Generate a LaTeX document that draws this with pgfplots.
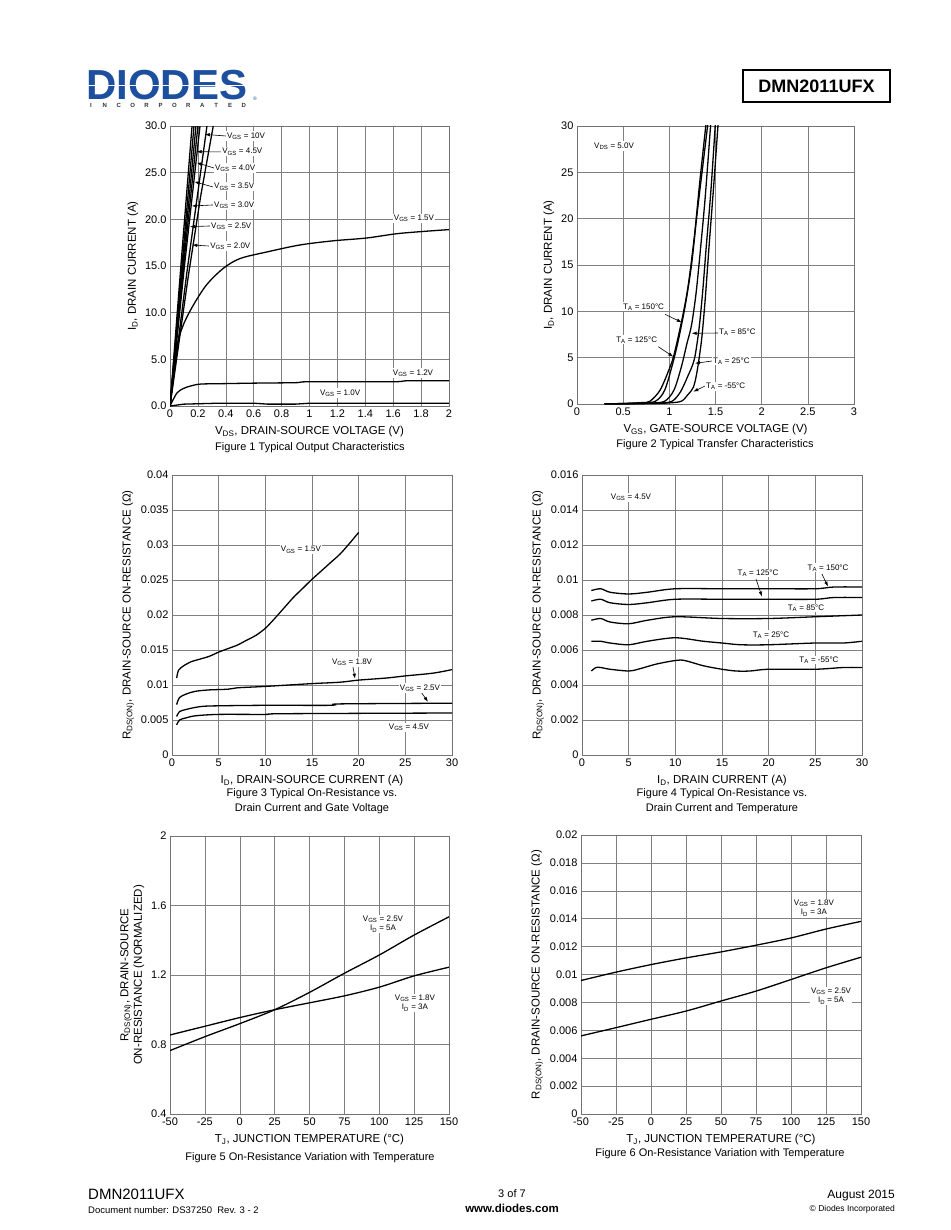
\documentclass[border=0pt]{standalone}
\usepackage{fontspec}
\setmainfont{Liberation Sans}
\usepackage{pgfplots}
\pgfplotsset{compat=1.18}
\usetikzlibrary{arrows.meta}
\definecolor{diodesblue}{RGB}{28,79,158}
\newcommand\tks{\fontsize{11}{13}\selectfont}
\newcommand\lbs{\fontsize{11.5}{13.5}\selectfont}
\newcommand\anns{\fontsize{8}{9.5}\selectfont}
\newcommand\cps{\fontsize{11}{15}\selectfont}
\newcommand\GS{V\textsubscript{GS}}
\newcommand\TA{T\textsubscript{A}}
\pgfplotsset{
 ds/.style={
   scale only axis, anchor=south west,
   axis line style={black!55, line width=0.7pt},
   grid=major, major grid style={black!50, line width=0.5pt},
   major tick length=0pt,
   tick label style={font=\tks},
   xlabel style={font=\lbs, yshift=-2pt},
   ylabel style={font=\lbs},
   scaled x ticks=false, scaled y ticks=false,
   no markers,
   every axis plot post/.append style={black, solid, line width=1.3pt, mark=none},
   /pgf/number format/assume math mode=true,
 },
}
\tikzset{
 ann/.style={font=\anns, fill=white, inner sep=1pt},
 arr/.style={-{Latex[length=5pt,width=3.5pt]}, line width=0.6pt},
}
\begin{document}
\begin{tikzpicture}
\useasboundingbox[fill=white] (0pt,0pt) rectangle (950pt,-1230pt);

% ---------- header ----------
\node[anchor=base west, inner sep=0pt, text depth=0pt, text=diodesblue, font=\fontsize{42}{42}\selectfont\bfseries] at (86pt,-100pt) {DIODES};
\fill[white] (86pt,-86pt) rectangle (252pt,-84.6pt);
\foreach \c [count=\i from 0] in {I,N,C,O,R,P,O,R,A,T,E,D}
  \node[anchor=base, inner sep=0pt, text depth=0pt, text=black!80, font=\fontsize{6}{6}\selectfont\bfseries] at ({91pt+\i*13.9pt},-108pt) {\c};
\node[anchor=base, inner sep=0pt, text depth=0pt, text=diodesblue, font=\fontsize{5}{5}\selectfont] at (255pt,-101pt) {®};
\draw[line width=1.2pt] (743pt,-70pt) rectangle (890pt,-102pt);
\node[font=\fontsize{18}{18}\selectfont\bfseries] at (816.5pt,-86.5pt) {DMN2011UFX};

% ---------- Figure 1 ----------
\begin{axis}[ds, at={(170pt,-406pt)}, width=279pt, height=280pt,
  xmin=0, xmax=2, ymin=0, ymax=30,
  xtick={0,0.2,0.4,0.6,0.8,1,1.2,1.4,1.6,1.8,2},
  xticklabels={0,0.2,0.4,0.6,0.8,1,1.2,1.4,1.6,1.8,2},
  ytick={0,5,10,15,20,25,30},
  yticklabels={0.0,5.0,10.0,15.0,20.0,25.0,30.0},
  xlabel={V\textsubscript{DS}, DRAIN-SOURCE VOLTAGE (V)},
  ylabel={I\textsubscript{D}, DRAIN CURRENT (A)}]
\addplot coordinates {(0,0)(0.08,15.4)(0.158,30)};
\addplot coordinates {(0,0)(0.09,15.8)(0.172,30)};
\addplot coordinates {(0,0)(0.095,15.6)(0.186,30)};
\addplot coordinates {(0,0)(0.10,15.4)(0.20,30)};
\addplot coordinates {(0,0)(0.105,15.2)(0.215,30)};
\addplot coordinates {(0,0)(0.12,14.2)(0.265,30)};
\addplot coordinates {(0,0)(0.13,13.8)(0.22,22.5)(0.31,30)};
\addplot+[smooth] coordinates {(0,0)(0.048,6.2)(0.096,8.7)(0.167,10.8)(0.263,13.0)(0.382,14.75)(0.502,15.8)(0.693,16.5)(0.93,17.25)(1.17,17.7)(1.41,18.0)(1.65,18.5)(2,18.9)};
\addplot+[smooth] coordinates {(0,0)(0.05,1.4)(0.1,1.9)(0.15,2.15)(0.22,2.35)(0.4,2.4)(0.6,2.45)(0.9,2.5)(1.0,2.6)(1.6,2.6)(1.7,2.7)(2,2.7)};
\addplot coordinates {(0,0)(0.1,0.2)(0.35,0.3)(0.6,0.3)(0.7,0.2)(0.9,0.2)(1.0,0.3)(2,0.3)};
\draw[arr] (axis cs:0.40,28.93) -- (axis cs:0.25,29.1);
\draw[arr] (axis cs:0.366,27.22) -- (axis cs:0.191,27.25);
\draw[arr] (axis cs:0.315,25.5) -- (axis cs:0.191,26.07);
\draw[arr] (axis cs:0.308,23.47) -- (axis cs:0.174,24.03);
\draw[arr] (axis cs:0.308,21.54) -- (axis cs:0.156,21.43);
\draw[arr] (axis cs:0.287,19.29) -- (axis cs:0.143,19.21);
\draw[arr] (axis cs:0.28,17.14) -- (axis cs:0.16,17.25);
\node[ann, anchor=west] at (axis cs:0.401,28.93) {\GS{} = 10V};
\node[ann, anchor=west] at (axis cs:0.366,27.22) {\GS{} = 4.5V};
\node[ann, anchor=west] at (axis cs:0.315,25.5) {\GS{} = 4.0V};
\node[ann, anchor=west] at (axis cs:0.308,23.47) {\GS{} = 3.5V};
\node[ann, anchor=west] at (axis cs:0.308,21.54) {\GS{} = 3.0V};
\node[ann, anchor=west] at (axis cs:0.287,19.29) {\GS{} = 2.5V};
\node[ann, anchor=west] at (axis cs:0.28,17.14) {\GS{} = 2.0V};
\node[ann] at (axis cs:1.749,20.14) {\GS{} = 1.5V};
\node[ann] at (axis cs:1.742,3.54) {\GS{} = 1.2V};
\node[ann] at (axis cs:1.219,1.39) {\GS{} = 1.0V};
\end{axis}
\node[font=\cps] at (310pt,-448pt) {Figure 1 Typical Output Characteristics};

% ---------- Figure 2 ----------
\begin{axis}[ds, at={(577pt,-404pt)}, width=277pt, height=278pt,
  xmin=0, xmax=3, ymin=0, ymax=30,
  xtick={0,0.5,1,1.5,2,2.5,3},
  xticklabels={0,0.5,1,1.5,2,2.5,3},
  ytick={0,5,10,15,20,25,30},
  yticklabels={0,5,10,15,20,25,30},
  xlabel={V\textsubscript{GS}, GATE-SOURCE VOLTAGE (V)},
  ylabel={I\textsubscript{D}, DRAIN CURRENT (A)}]
\addplot+[smooth] coordinates {(0.3,0.02)(0.5,0.05)(0.7,0.15)(0.79,0.3)(0.9,1.5)(1.0,3.8)(1.05,5.3)(1.13,8.8)(1.2,12.5)(1.27,18)(1.33,24)(1.40,30.5)};
\addplot+[smooth] coordinates {(0.3,0.02)(0.5,0.05)(0.7,0.12)(0.85,0.3)(0.95,1.5)(1.04,4.5)(1.1,7)(1.17,10.5)(1.24,15)(1.30,20.5)(1.36,25.5)(1.42,30.5)};
\addplot+[smooth] coordinates {(0.3,0.02)(0.6,0.05)(0.8,0.1)(0.95,0.3)(1.05,1.5)(1.13,4)(1.19,6.5)(1.24,8.5)(1.29,12)(1.34,17)(1.39,22.5)(1.45,30.5)};
\addplot+[smooth] coordinates {(0.3,0.02)(0.7,0.05)(0.9,0.1)(1.03,0.3)(1.12,1.3)(1.2,3)(1.27,4.8)(1.32,8)(1.36,12)(1.40,17)(1.45,23)(1.50,30.5)};
\addplot+[smooth] coordinates {(0.3,0.02)(0.8,0.05)(1.0,0.12)(1.13,0.3)(1.2,1)(1.26,1.8)(1.3,3.5)(1.35,7)(1.39,11.5)(1.43,17)(1.48,23.5)(1.53,30.5)};
\draw[arr] (axis cs:0.953,9.68) -- (axis cs:1.134,8.82);
\draw[arr] (axis cs:0.881,6.18) -- (axis cs:1.043,5.10);
\draw[arr] (axis cs:1.527,7.66) -- (axis cs:1.242,7.63);
\draw[arr] (axis cs:1.462,4.64) -- (axis cs:1.278,4.39);
\draw[arr] (axis cs:1.386,1.94) -- (axis cs:1.26,1.33);
\node[ann, anchor=west] at (axis cs:0.173,27.84) {V\textsubscript{DS} = 5.0V};
\node[ann, anchor=west] at (axis cs:0.487,10.47) {\TA{} = 150°C};
\node[ann, anchor=west] at (axis cs:0.412,6.91) {\TA{} = 125°C};
\node[ann, anchor=west] at (axis cs:1.527,7.77) {\TA{} = 85°C};
\node[ann, anchor=west] at (axis cs:1.462,4.64) {\TA{} = 25°C};
\node[ann, anchor=west] at (axis cs:1.386,1.94) {\TA{} = -55°C};
\end{axis}
\node[font=\cps] at (715pt,-445pt) {Figure 2 Typical Transfer Characteristics};

% ---------- Figure 3 ----------
\begin{axis}[ds, at={(172pt,-755pt)}, width=280pt, height=280pt,
  xmin=0, xmax=30, ymin=0, ymax=0.04,
  xtick={0,5,10,15,20,25,30},
  xticklabels={0,5,10,15,20,25,30},
  ytick={0,0.005,0.01,0.015,0.02,0.025,0.03,0.035,0.04},
  yticklabels={0,0.005,0.01,0.015,0.02,0.025,0.03,0.035,0.04},
  xlabel={I\textsubscript{D}, DRAIN-SOURCE CURRENT (A)},
  ylabel={R\textsubscript{DS(ON)}, DRAIN-SOURCE ON-RESISTANCE (Ω)}]
\addplot+[smooth] coordinates {(0.5,0.011)(0.7,0.0121)(1.2,0.0127)(2,0.0133)(3,0.0137)(4,0.0141)(5,0.0147)(6,0.0152)(7,0.0157)(8,0.0164)(9,0.0171)(10,0.0181)(11,0.0195)(12,0.021)(13,0.0225)(14,0.0238)(15,0.0251)(16,0.0263)(17,0.0275)(18,0.0287)(19,0.0302)(20,0.0318)};
\addplot+[smooth] coordinates {(0.5,0.0072)(0.8,0.0082)(1.5,0.0087)(2.5,0.0091)(4,0.0093)(6,0.0094)(7,0.0096)(10,0.0098)(15,0.0102)(18,0.0104)(20,0.0107)(23,0.0110)(25,0.0113)(28,0.0117)(30,0.0122)};
\addplot+[smooth] coordinates {(0.5,0.0055)(0.8,0.0062)(1.5,0.0065)(2.5,0.0068)(4,0.0070)(10,0.0071)(17,0.0071)(18,0.0073)(30,0.0074)};
\addplot+[smooth] coordinates {(0.5,0.0043)(0.8,0.005)(1.5,0.0053)(2.5,0.0056)(5,0.0058)(10,0.0058)(12,0.0059)(30,0.0060)};
\draw[arr] (axis cs:19.39,0.0126) -- (axis cs:19.61,0.0109);
\draw[arr] (axis cs:26.68,0.0090) -- (axis cs:27.43,0.0076);
\node[ann] at (axis cs:13.82,0.02929) {\GS{} = 1.5V};
\node[ann] at (axis cs:19.29,0.01329) {\GS{} = 1.8V};
\node[ann] at (axis cs:26.57,0.00957) {\GS{} = 2.5V};
\node[ann] at (axis cs:25.39,0.0040) {\GS{} = 4.5V};
\end{axis}
\node[font=\cps, align=center] at (312pt,-801pt) {Figure 3 Typical On-Resistance vs.\\Drain Current and Gate Voltage};

% ---------- Figure 4 ----------
\begin{axis}[ds, at={(582pt,-755pt)}, width=280pt, height=280pt,
  xmin=0, xmax=30, ymin=0, ymax=0.016,
  xtick={0,5,10,15,20,25,30},
  xticklabels={0,5,10,15,20,25,30},
  ytick={0,0.002,0.004,0.006,0.008,0.01,0.012,0.014,0.016},
  yticklabels={0,0.002,0.004,0.006,0.008,0.01,0.012,0.014,0.016},
  xlabel={I\textsubscript{D}, DRAIN CURRENT (A)},
  ylabel={R\textsubscript{DS(ON)}, DRAIN-SOURCE ON-RESISTANCE (Ω)}]
\addplot+[smooth] coordinates {(1,0.0094)(2,0.0095)(3,0.0093)(5,0.0092)(7,0.0093)(10,0.0095)(15,0.0095)(20,0.0095)(25,0.0095)(27,0.0096)(30,0.0096)};
\addplot+[smooth] coordinates {(1,0.0088)(2,0.0089)(3,0.0087)(5,0.0086)(7,0.0087)(10,0.0089)(15,0.0089)(20,0.0089)(25,0.0089)(27,0.0090)(30,0.0090)};
\addplot+[smooth] coordinates {(1,0.0077)(2,0.0078)(3,0.0076)(5,0.0075)(7,0.0077)(10,0.0079)(15,0.0078)(20,0.0078)(25,0.0079)(30,0.0080)};
\addplot+[smooth] coordinates {(1,0.0065)(2,0.0065)(3,0.0064)(5,0.0063)(7,0.0065)(10,0.0067)(13,0.0065)(15,0.0064)(17,0.0063)(20,0.0063)(25,0.0064)(28,0.0064)(30,0.0065)};
\addplot+[smooth] coordinates {(1,0.0048)(1.5,0.0050)(2,0.0050)(3,0.0049)(5,0.0048)(6,0.0049)(8,0.0052)(10,0.0054)(11,0.0054)(13,0.0051)(15,0.0049)(16.5,0.0048)(18,0.0048)(20,0.0049)(25,0.0049)(28,0.0050)(30,0.0050)};
\draw[arr] (axis cs:18.64,0.01006) -- (axis cs:19.29,0.00905);
\draw[arr] (axis cs:25.71,0.01034) -- (axis cs:26.36,0.00962);
\node[ann] at (axis cs:5.25,0.01474) {\GS{} = 4.5V};
\node[ann] at (axis cs:18.86,0.0104) {\TA{} = 125°C};
\node[ann] at (axis cs:26.36,0.01069) {\TA{} = 150°C};
\node[ann] at (axis cs:24.0,0.0084) {\TA{} = 85°C};
\node[ann] at (axis cs:20.25,0.00686) {\TA{} = 25°C};
\node[ann] at (axis cs:25.39,0.00543) {\TA{} = -55°C};
\end{axis}
\node[font=\cps, align=center] at (722pt,-801pt) {Figure 4 Typical On-Resistance vs.\\Drain Current and Temperature};

% ---------- Figure 5 ----------
\begin{axis}[ds, at={(170pt,-1114pt)}, width=279pt, height=278pt,
  xmin=-50, xmax=150, ymin=0.4, ymax=2,
  xtick={-50,-25,0,25,50,75,100,125,150},
  xticklabels={-50,-25,0,25,50,75,100,125,150},
  ytick={0.4,0.8,1.2,1.6,2},
  yticklabels={0.4,0.8,1.2,1.6,2},
  xlabel={T\textsubscript{J}, JUNCTION TEMPERATURE (°C)},
  ylabel={R\textsubscript{DS(ON)}, DRAIN-SOURCE\\ON-RESISTANCE (NORMALIZED)},
  ylabel style={align=center}]
\addplot+[smooth] coordinates {(-50,0.765)(-25,0.845)(0,0.92)(25,1.0)(50,1.1)(75,1.21)(100,1.315)(125,1.43)(150,1.535)};
\addplot+[smooth] coordinates {(-50,0.855)(-25,0.905)(0,0.955)(25,1.0)(50,1.04)(75,1.08)(100,1.13)(125,1.195)(150,1.245)};
\node[ann, align=center] at (axis cs:102.7,1.494) {\GS{} = 2.5V\\I\textsubscript{D} = 5A};
\node[ann, align=center] at (axis cs:125.6,1.039) {\GS{} = 1.8V\\I\textsubscript{D} = 3A};
\end{axis}
\node[font=\cps] at (310pt,-1158pt) {Figure 5 On-Resistance Variation with Temperature};

% ---------- Figure 6 ----------
\begin{axis}[ds, at={(581pt,-1114pt)}, width=280pt, height=279pt,
  xmin=-50, xmax=150, ymin=0, ymax=0.02,
  xtick={-50,-25,0,25,50,75,100,125,150},
  xticklabels={-50,-25,0,25,50,75,100,125,150},
  ytick={0,0.002,0.004,0.006,0.008,0.01,0.012,0.014,0.016,0.018,0.02},
  yticklabels={0,0.002,0.004,0.006,0.008,0.01,0.012,0.014,0.016,0.018,0.02},
  xlabel={T\textsubscript{J}, JUNCTION TEMPERATURE (°C)},
  ylabel={R\textsubscript{DS(ON)}, DRAIN-SOURCE ON-RESISTANCE (Ω)}]
\addplot+[smooth] coordinates {(-50,0.00957)(-25,0.01017)(0,0.01071)(25,0.01119)(50,0.01162)(75,0.0121)(100,0.01262)(125,0.01326)(150,0.01381)};
\addplot+[smooth] coordinates {(-50,0.0056)(-25,0.00619)(0,0.00679)(25,0.00738)(50,0.0081)(75,0.00881)(100,0.00964)(125,0.01048)(150,0.01124)};
\node[ann, align=center] at (axis cs:116.4,0.01477) {\GS{} = 1.8V\\I\textsubscript{D} = 3A};
\node[ann, align=center] at (axis cs:128.6,0.00846) {\GS{} = 2.5V\\I\textsubscript{D} = 5A};
\end{axis}
\node[font=\cps] at (720pt,-1154pt) {Figure 6 On-Resistance Variation with Temperature};

% ---------- footer ----------
\node[anchor=base west, inner sep=0pt, font=\fontsize{15}{15}\selectfont] at (88pt,-1199pt) {DMN2011UFX};
\node[anchor=base west, inner sep=0pt, font=\fontsize{9.5}{10}\selectfont] at (88pt,-1213pt) {Document number: DS37250\ \ Rev. 3 - 2};
\node[anchor=base, inner sep=0pt, font=\fontsize{11}{11}\selectfont] at (512pt,-1197pt) {3 of 7};
\node[anchor=base, inner sep=0pt, font=\fontsize{11.5}{11.5}\selectfont\bfseries] at (512pt,-1212pt) {www.diodes.com};
\node[anchor=base east, inner sep=0pt, font=\fontsize{12}{12}\selectfont] at (895pt,-1198pt) {August 2015};
\node[anchor=base east, inner sep=0pt, font=\fontsize{8.5}{9}\selectfont] at (895pt,-1211pt) {© Diodes Incorporated};
\end{tikzpicture}
\end{document}
